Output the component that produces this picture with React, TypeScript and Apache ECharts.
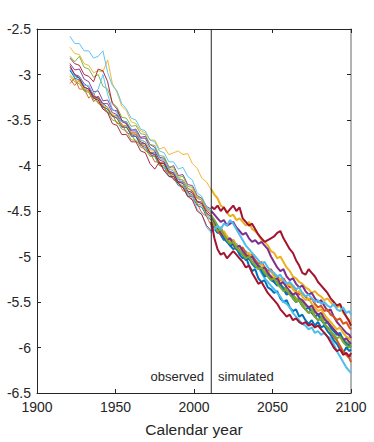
import React, { useEffect, useRef } from "react";
import * as echarts from "echarts";

const obsYears = [1921, 1924, 1927, 1930, 1933, 1936, 1939, 1942, 1945, 1948, 1951, 1954, 1957, 1960, 1963, 1966, 1969, 1972, 1975, 1978, 1981, 1984, 1987, 1990, 1993, 1996, 1999, 2002, 2005, 2008, 2011];
const simYears = [2011, 2013, 2015, 2017, 2019, 2021, 2023, 2025, 2027, 2029, 2031, 2033, 2035, 2037, 2039, 2041, 2043, 2045, 2047, 2049, 2051, 2053, 2055, 2057, 2059, 2061, 2063, 2065, 2067, 2069, 2071, 2073, 2075, 2077, 2079, 2081, 2083, 2085, 2087, 2089, 2091, 2093, 2095, 2097, 2099, 2100];

const colors = ["#0072BD", "#D95319", "#EDB120", "#7E2F8E", "#77AC30", "#4DBEEE", "#A2142F", "#0072BD", "#D95319", "#EDB120", "#7E2F8E", "#77AC30", "#4DBEEE", "#A2142F"];

const obs0 = [-2.95, -3.04, -3.06, -3.16, -3.18, -3.26, -3.24, -3.32, -3.36, -3.46, -3.45, -3.56, -3.56, -3.68, -3.68, -3.76, -3.76, -3.86, -3.86, -3.97, -3.98, -4.08, -4.08, -4.15, -4.16, -4.25, -4.28, -4.36, -4.38, -4.48, -4.52];
const obs1 = [-3.05, -3.12, -3.06, -3.18, -3.18, -3.30, -3.24, -3.35, -3.38, -3.45, -3.48, -3.57, -3.58, -3.65, -3.66, -3.77, -3.78, -3.86, -3.88, -3.97, -3.97, -4.08, -4.08, -4.19, -4.18, -4.29, -4.28, -4.39, -4.42, -4.53, -4.56];
const obs2 = [-2.70, -2.77, -2.78, -2.88, -2.90, -2.98, -2.96, -2.97, -2.84, -3.10, -3.20, -3.35, -3.40, -3.52, -3.54, -3.62, -3.64, -3.72, -3.72, -3.82, -3.80, -3.88, -3.86, -3.84, -3.88, -3.87, -3.98, -4.03, -4.14, -4.18, -4.27];
const obs3 = [-2.88, -2.95, -2.94, -3.05, -3.08, -3.19, -3.18, -3.29, -3.28, -3.39, -3.40, -3.51, -3.52, -3.61, -3.60, -3.69, -3.68, -3.77, -3.80, -3.91, -3.92, -4.03, -4.00, -4.11, -4.10, -4.21, -4.22, -4.33, -4.36, -4.45, -4.48];
const obs4 = [-2.80, -2.86, -2.80, -2.92, -2.94, -3.03, -3.00, -3.13, -3.16, -3.31, -3.36, -3.47, -3.48, -3.57, -3.56, -3.65, -3.66, -3.77, -3.78, -3.89, -3.90, -4.01, -4.02, -4.13, -4.12, -4.23, -4.24, -4.35, -4.36, -4.47, -4.50];
const obs5 = [-2.58, -2.66, -2.66, -2.74, -2.74, -2.82, -2.80, -2.74, -2.98, -3.12, -3.18, -3.32, -3.38, -3.48, -3.50, -3.60, -3.62, -3.72, -3.74, -3.84, -3.86, -3.96, -3.96, -4.04, -4.02, -4.12, -4.16, -4.30, -4.34, -4.46, -4.50];
const obs6 = [-2.82, -2.88, -2.90, -3.00, -3.02, -3.08, -2.94, -2.96, -3.08, -3.32, -3.38, -3.50, -3.54, -3.64, -3.64, -3.74, -3.76, -3.86, -3.88, -3.98, -3.98, -4.08, -4.10, -4.18, -4.18, -4.28, -4.30, -4.40, -4.40, -4.50, -4.54];
const obs7 = [-2.96, -3.02, -3.04, -3.14, -3.16, -3.24, -3.26, -3.36, -3.38, -3.46, -3.48, -3.58, -3.58, -3.66, -3.68, -3.78, -3.80, -3.88, -3.90, -4.00, -4.02, -4.12, -4.14, -4.22, -4.24, -4.34, -4.34, -4.44, -4.46, -4.56, -4.60];
const obs8 = [-3.10, -3.04, -3.16, -3.16, -3.26, -3.20, -3.32, -3.34, -3.42, -3.44, -3.54, -3.54, -3.64, -3.66, -3.74, -3.76, -3.84, -3.86, -3.96, -3.96, -4.06, -4.06, -4.16, -4.18, -4.28, -4.28, -4.38, -4.42, -4.52, -4.56, -4.66];
const obs9 = [-3.00, -3.06, -3.08, -3.16, -3.18, -3.26, -3.26, -3.34, -3.36, -3.44, -3.46, -3.56, -3.56, -3.64, -3.64, -3.72, -3.74, -3.84, -3.84, -3.94, -3.94, -4.04, -4.04, -4.14, -4.16, -4.26, -4.26, -4.36, -4.38, -4.48, -4.52];
const obs10 = [-2.92, -3.00, -3.02, -3.10, -3.14, -3.24, -3.26, -3.32, -3.32, -3.42, -3.44, -3.52, -3.54, -3.62, -3.62, -3.70, -3.70, -3.80, -3.84, -3.94, -3.96, -4.06, -4.08, -4.18, -4.20, -4.30, -4.32, -4.40, -4.42, -4.52, -4.56];
const obs11 = [-3.02, -3.08, -3.10, -3.18, -3.20, -3.28, -3.30, -3.38, -3.40, -3.50, -3.52, -3.60, -3.62, -3.72, -3.72, -3.80, -3.82, -3.90, -3.90, -4.00, -4.00, -4.10, -4.12, -4.20, -4.22, -4.32, -4.34, -4.42, -4.44, -4.54, -4.58];
const obs12 = [-2.94, -3.02, -3.02, -3.12, -3.12, -3.22, -3.16, -3.00, -3.22, -3.38, -3.42, -3.52, -3.52, -3.60, -3.62, -3.72, -3.74, -3.82, -3.82, -3.92, -3.94, -4.04, -4.06, -4.16, -4.18, -4.30, -4.34, -4.48, -4.54, -4.68, -4.74];
const obs13 = [-2.90, -3.00, -3.04, -3.14, -3.16, -3.26, -3.28, -3.38, -3.42, -3.54, -3.56, -3.66, -3.66, -3.74, -3.74, -3.84, -3.86, -3.98, -4.04, -3.96, -4.06, -4.12, -4.12, -4.20, -4.24, -4.34, -4.38, -4.50, -4.54, -4.66, -4.72];

const sim0 = [-4.55, -4.66, -4.72, -4.76, -4.82, -4.80, -4.88, -4.92, -4.90, -4.98, -5.02, -5.00, -5.10, -5.16, -5.14, -5.24, -5.28, -5.26, -5.34, -5.36, -5.40, -5.38, -5.46, -5.50, -5.48, -5.56, -5.60, -5.58, -5.66, -5.64, -5.70, -5.74, -5.70, -5.76, -5.72, -5.78, -5.76, -5.82, -5.86, -5.92, -5.96, -6.02, -6.06, -6.00, -6.04, -6.02];
const sim1 = [-4.58, -4.64, -4.70, -4.68, -4.76, -4.82, -4.80, -4.88, -4.92, -4.90, -4.96, -5.02, -5.00, -5.06, -5.10, -5.08, -5.14, -5.20, -5.18, -5.24, -5.28, -5.26, -5.32, -5.36, -5.40, -5.38, -5.44, -5.50, -5.48, -5.54, -5.58, -5.62, -5.60, -5.66, -5.70, -5.68, -5.74, -5.78, -5.82, -5.88, -5.92, -5.98, -6.04, -6.08, -6.12, -6.16];
const sim2 = [-4.26, -4.32, -4.36, -4.44, -4.46, -4.52, -4.56, -4.54, -4.60, -4.58, -4.62, -4.66, -4.62, -4.70, -4.72, -4.76, -4.82, -4.84, -4.88, -4.94, -4.96, -5.02, -5.00, -5.06, -5.12, -5.16, -5.22, -5.24, -5.28, -5.30, -5.34, -5.36, -5.40, -5.38, -5.42, -5.44, -5.48, -5.46, -5.50, -5.54, -5.56, -5.54, -5.62, -5.66, -5.70, -5.72];
const sim3 = [-4.50, -4.54, -4.58, -4.62, -4.60, -4.66, -4.64, -4.62, -4.68, -4.72, -4.76, -4.74, -4.80, -4.84, -4.82, -4.86, -4.84, -4.88, -4.92, -5.00, -5.06, -5.12, -5.16, -5.14, -5.22, -5.26, -5.24, -5.30, -5.34, -5.32, -5.38, -5.42, -5.40, -5.46, -5.50, -5.48, -5.54, -5.60, -5.58, -5.66, -5.72, -5.76, -5.80, -5.84, -5.86, -5.90];
const sim4 = [-4.55, -4.60, -4.66, -4.72, -4.74, -4.78, -4.82, -4.86, -4.88, -4.92, -4.94, -4.98, -5.02, -5.04, -5.08, -5.10, -5.14, -5.16, -5.20, -5.22, -5.26, -5.28, -5.32, -5.34, -5.36, -5.40, -5.42, -5.46, -5.48, -5.50, -5.54, -5.56, -5.58, -5.62, -5.64, -5.66, -5.70, -5.72, -5.76, -5.80, -5.84, -5.86, -5.90, -5.94, -5.96, -5.98];
const sim5 = [-4.66, -4.70, -4.74, -4.72, -4.80, -4.84, -4.82, -4.88, -4.86, -4.92, -4.96, -4.94, -5.00, -5.04, -5.06, -5.12, -5.18, -5.24, -5.28, -5.32, -5.36, -5.40, -5.44, -5.50, -5.52, -5.56, -5.62, -5.66, -5.70, -5.74, -5.76, -5.80, -5.78, -5.84, -5.82, -5.86, -5.84, -5.88, -5.90, -5.96, -6.04, -6.10, -6.16, -6.22, -6.26, -6.28];
const sim6 = [-4.45, -4.48, -4.44, -4.50, -4.46, -4.52, -4.48, -4.44, -4.50, -4.46, -4.58, -4.62, -4.66, -4.64, -4.70, -4.76, -4.80, -4.84, -4.82, -4.80, -4.78, -4.74, -4.72, -4.80, -4.86, -4.92, -4.96, -5.04, -5.10, -5.18, -5.20, -5.14, -5.18, -5.22, -5.28, -5.32, -5.36, -5.40, -5.46, -5.50, -5.54, -5.52, -5.60, -5.66, -5.72, -5.76];
const sim7 = [-4.62, -4.68, -4.74, -4.72, -4.80, -4.84, -4.88, -4.86, -4.92, -4.96, -4.98, -5.04, -5.02, -5.08, -5.12, -5.10, -5.16, -5.22, -5.20, -5.26, -5.28, -5.32, -5.30, -5.36, -5.42, -5.40, -5.46, -5.50, -5.48, -5.54, -5.58, -5.56, -5.62, -5.66, -5.64, -5.70, -5.74, -5.72, -5.78, -5.82, -5.86, -5.84, -5.92, -5.96, -5.98, -6.00];
const sim8 = [-4.62, -4.66, -4.72, -4.76, -4.74, -4.80, -4.84, -4.82, -4.88, -4.92, -4.90, -4.96, -5.00, -4.98, -5.04, -5.08, -5.06, -5.12, -5.16, -5.14, -5.20, -5.22, -5.26, -5.24, -5.30, -5.34, -5.32, -5.38, -5.42, -5.40, -5.44, -5.48, -5.46, -5.52, -5.56, -5.54, -5.60, -5.58, -5.64, -5.66, -5.70, -5.68, -5.74, -5.72, -5.78, -5.80];
const sim9 = [-4.60, -4.64, -4.70, -4.74, -4.72, -4.78, -4.84, -4.82, -4.88, -4.90, -4.94, -4.98, -4.96, -5.02, -5.06, -5.10, -5.08, -5.14, -5.18, -5.16, -5.22, -5.26, -5.24, -5.30, -5.32, -5.30, -5.36, -5.40, -5.38, -5.44, -5.48, -5.46, -5.52, -5.56, -5.60, -5.58, -5.64, -5.68, -5.72, -5.76, -5.80, -5.78, -5.84, -5.88, -5.90, -5.92];
const sim10 = [-4.58, -4.64, -4.70, -4.74, -4.78, -4.82, -4.80, -4.86, -4.90, -4.88, -4.94, -4.98, -5.02, -5.00, -5.06, -5.10, -5.14, -5.12, -5.18, -5.22, -5.26, -5.24, -5.30, -5.28, -5.34, -5.38, -5.42, -5.40, -5.46, -5.48, -5.52, -5.56, -5.54, -5.60, -5.64, -5.62, -5.68, -5.72, -5.76, -5.80, -5.84, -5.88, -5.92, -5.90, -5.94, -5.96];
const sim11 = [-4.60, -4.66, -4.72, -4.70, -4.76, -4.82, -4.86, -4.84, -4.90, -4.94, -4.98, -5.02, -5.00, -5.06, -5.10, -5.14, -5.12, -5.18, -5.22, -5.26, -5.24, -5.30, -5.34, -5.38, -5.36, -5.42, -5.46, -5.50, -5.48, -5.54, -5.58, -5.62, -5.60, -5.66, -5.70, -5.68, -5.74, -5.78, -5.82, -5.86, -5.90, -5.88, -5.94, -5.98, -6.00, -5.98];
const sim12 = [-4.72, -4.70, -4.66, -4.70, -4.64, -4.66, -4.60, -4.64, -4.70, -4.76, -4.82, -4.88, -4.92, -4.96, -5.00, -5.04, -5.08, -5.06, -5.12, -5.16, -5.18, -5.22, -5.20, -5.26, -5.30, -5.28, -5.32, -5.36, -5.34, -5.40, -5.44, -5.42, -5.46, -5.50, -5.48, -5.52, -5.50, -5.54, -5.56, -5.52, -5.58, -5.60, -5.56, -5.62, -5.60, -5.64];
const sim13 = [-4.62, -4.80, -4.92, -4.98, -4.96, -5.02, -4.98, -4.94, -4.98, -5.02, -5.06, -5.12, -5.10, -5.18, -5.24, -5.30, -5.28, -5.34, -5.40, -5.44, -5.48, -5.52, -5.58, -5.62, -5.66, -5.64, -5.70, -5.68, -5.72, -5.74, -5.72, -5.76, -5.74, -5.78, -5.76, -5.80, -5.84, -5.88, -5.94, -6.00, -6.04, -6.02, -6.08, -6.06, -6.10, -6.06];

const observed = [obs0, obs1, obs2, obs3, obs4, obs5, obs6, obs7, obs8, obs9, obs10, obs11, obs12, obs13];
const simulated = [sim0, sim1, sim2, sim3, sim4, sim5, sim6, sim7, sim8, sim9, sim10, sim11, sim12, sim13];

const splitYear = 2011;
const xTicks = { min: 1900, max: 2100, interval: 50 };
const yTicks = { min: -6.5, max: -2.5, interval: 0.5 };

const FONT = "Liberation Sans, Arial, Helvetica, sans-serif";
const AXIS_COLOR = "#262626";

export default function App() {
  const ref = useRef<HTMLDivElement>(null);
  useEffect(() => {
    if (!ref.current) return;
    const chart = echarts.init(ref.current, undefined, { renderer: "svg" });
    const series: any[] = [];
    observed.forEach((vals, i) => {
      series.push({
        type: "line",
        showSymbol: false,
        symbol: "none",
        data: obsYears.map((y, k) => [y, vals[k]]),
        lineStyle: { color: colors[i], width: 0.9 },
        z: 2,
      });
    });
    simulated.forEach((vals, i) => {
      series.push({
        type: "line",
        showSymbol: false,
        symbol: "none",
        data: simYears.map((y, k) => [y, vals[k]]),
        lineStyle: { color: colors[i], width: 2 },
        z: 3,
      });
    });
    series.push({
      type: "line",
      symbol: "none",
      data: [[splitYear, yTicks.min], [splitYear, yTicks.max]],
      lineStyle: { color: AXIS_COLOR, width: 1 },
      z: 4,
    });
    const axisCommon = {
      axisLine: { show: true, lineStyle: { color: AXIS_COLOR, width: 1 } },
      axisTick: { show: true, inside: true, length: 4, lineStyle: { color: AXIS_COLOR } },
      splitLine: { show: false },
    };
    chart.setOption({
      animation: false,
      grid: { left: 37, right: 23, top: 29, bottom: 46 },
      xAxis: [
        {
          type: "value",
          ...xTicks,
          ...axisCommon,
          position: "bottom",
          axisLabel: { color: AXIS_COLOR, fontSize: 14, fontFamily: FONT, margin: 7, formatter: (v: number) => String(v) },
          name: "Calendar year",
          nameLocation: "middle",
          nameGap: 28,
          nameTextStyle: { color: AXIS_COLOR, fontSize: 15.5, fontFamily: FONT },
        },
        {
          type: "value",
          ...xTicks,
          ...axisCommon,
          position: "top",
          axisLabel: { show: false },
        },
      ],
      yAxis: [
        {
          type: "value",
          ...yTicks,
          ...axisCommon,
          position: "left",
          axisLabel: { color: AXIS_COLOR, fontSize: 14, fontFamily: FONT, margin: 6, formatter: (v: number) => String(v) },
        },
        {
          type: "value",
          ...yTicks,
          ...axisCommon,
          axisLine: { show: true, lineStyle: { color: "#9a9a9a", width: 1.5 } },
          position: "right",
          axisLabel: { show: false },
        },
      ],
      graphic: [
        {
          type: "text",
          right: 374 - 204,
          top: 370,
          style: { text: "observed", fill: AXIS_COLOR, fontSize: 13, fontFamily: FONT, textAlign: "right" },
        },
        {
          type: "text",
          left: 218,
          top: 370,
          style: { text: "simulated", fill: AXIS_COLOR, fontSize: 13, fontFamily: FONT },
        },
      ],
      series,
    });
    return () => chart.dispose();
  }, []);
  return <div ref={ref} style={{ position: "fixed", left: 0, top: 0, width: 374, height: 442, background: "#fff" }} />;
}
